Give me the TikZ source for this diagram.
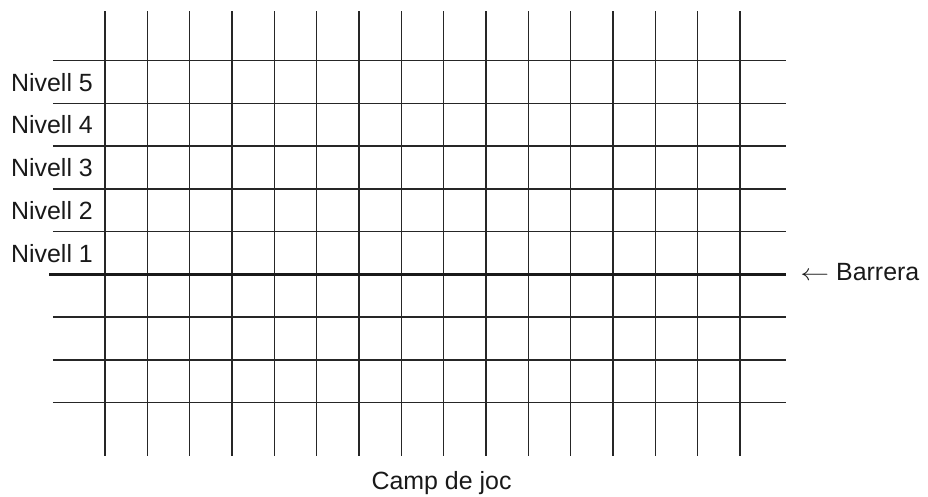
\documentclass[tikz,border=0pt]{standalone}
\usepackage{fontspec}
\setmainfont{Liberation Sans}
\usepackage{tikz}
\usetikzlibrary{positioning}
\tikzset{
  gridln/.style={line width=1.1pt, black!85},
  barln/.style={line width=2.4pt, black!90},
  lbl/.style={font=\fontsize{18.7}{22}\selectfont, inner sep=0pt, text=black!90},
}
\begin{document}
\begin{tikzpicture}[x=31.75pt, y=32.06pt]
  \useasboundingbox (-2.48,-5.20) rectangle (19.44,6.42);
  %% Playing field grid
  \foreach \i in {0,...,15}
    \draw[gridln] (\i,6.16) -- (\i,-4.25);
  \foreach \j in {1,...,5,-1,-2,-3}
    \draw[gridln] (-1.23,\j) -- (16.09,\j);
  %% Barrier
  \coordinate (bar-w) at (-1.32,0);
  \coordinate (bar-e) at (16.09,0);
  \draw[barln] (bar-w) -- (bar-e);
  \node[lbl, anchor=base west] (barrera) at (16.42,-0.13)
    {\scalebox{1.25}[1]{$\leftarrow$} Barrera};
  %% Levels
  \foreach \k in {1,...,5}
    \node[lbl, anchor=base east] (niv\k) at (-0.28,\k-0.71) {Nivell \k};
  \node[lbl, anchor=base] (camp) at (7.95,-5.04) {Camp de joc};
\end{tikzpicture}
\end{document}
